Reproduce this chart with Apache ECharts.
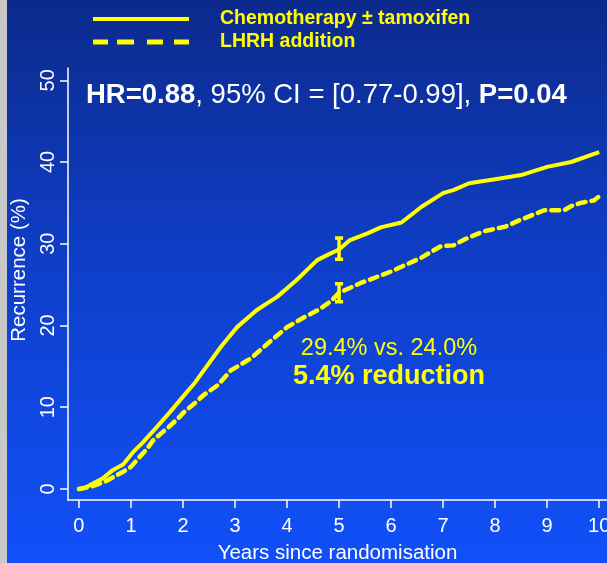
<!DOCTYPE html>
<html><head><meta charset="utf-8">
<script src="https://cdn.jsdelivr.net/npm/echarts@6/dist/echarts.min.js"></script>
<style>
html,body{margin:0;padding:0;background:#1150f7;}
#c{width:607px;height:563px;background:linear-gradient(to right,#c8c8c8 0,#c8c8c8 7px,transparent 7px),linear-gradient(to bottom,#0c2a8c 0%,#0f40cc 50%,#1150f9 100%);}
</style></head><body><div id="c"></div>
<script>
// Data
const seriesNames = ['Chemotherapy ± tamoxifen', 'LHRH addition'];
const chemoYears  = [0, 0.1, 0.25, 0.46, 0.65, 0.85, 1.04, 1.23, 1.5, 1.75, 2.0, 2.23, 2.4, 2.73, 3.04, 3.42, 3.81, 4.19, 4.58, 4.8, 5.0, 5.2, 5.56, 5.8, 6.2, 6.58, 7.0, 7.21, 7.5, 8.0, 8.5, 9.0, 9.46, 10.0];
const chemoValues = [0, 0.1, 0.6, 1.3, 2.3, 3.0, 4.5, 5.7, 7.6, 9.4, 11.3, 13.0, 14.5, 17.4, 19.8, 21.9, 23.5, 25.6, 28.0, 28.7, 29.3, 30.4, 31.3, 32.0, 32.6, 34.5, 36.2, 36.6, 37.4, 37.9, 38.4, 39.4, 40.0, 41.2];
const lhrhYears  = [0, 0.25, 0.5, 0.85, 1.0, 1.15, 1.31, 1.42, 1.58, 1.73, 1.9, 2.02, 2.19, 2.4, 2.67, 2.92, 3.31, 3.63, 4.0, 4.33, 4.6, 4.85, 5.0, 5.42, 6.0, 6.58, 6.96, 7.2, 7.4, 7.77, 8.2, 8.44, 8.79, 8.94, 9.33, 9.46, 9.65, 9.9, 10.0];
const lhrhValues = [0, 0.3, 0.9, 2.1, 2.7, 3.8, 4.9, 5.9, 6.8, 7.6, 8.6, 9.4, 10.3, 11.5, 12.7, 14.5, 16.0, 17.8, 19.8, 21.0, 21.9, 23.0, 24.0, 25.2, 26.6, 28.3, 29.7, 29.8, 30.5, 31.5, 32.1, 32.8, 33.7, 34.1, 34.1, 34.6, 35.0, 35.3, 35.8];
// 5-year confidence bars: [year, low, high]
const chemoCI = [5, 28.1, 30.7];
const lhrhCI  = [5, 22.9, 25.1];
const xTicks = [0,1,2,3,4,5,6,7,8,9,10];
const yTicks = [0,10,20,30,40,50];
const hrText = ['HR=0.88', ', 95% CI = [0.77-0.99], ', 'P=0.04'];
const noteLine1 = '29.4% vs. 24.0%';
const noteLine2 = '5.4% reduction';

const YEL = '#ffff00';
const FONT = '"Liberation Sans", Arial, sans-serif';

function pairs(xs, ys){ return xs.map((x,i)=>[x, ys[i]]); }

function errBar(params, api){
  const x = api.value(0), lo = api.value(1), hi = api.value(2);
  const a = api.coord([x, lo]), b = api.coord([x, hi]);
  const w = 4;
  const st = {stroke: YEL, lineWidth: 3.5};
  return {type:'group', children:[
    {type:'line', shape:{x1:a[0],y1:a[1],x2:b[0],y2:b[1]}, style:st},
    {type:'line', shape:{x1:a[0]-w,y1:a[1],x2:a[0]+w,y2:a[1]}, style:st},
    {type:'line', shape:{x1:b[0]-w,y1:b[1],x2:b[0]+w,y2:b[1]}, style:st}
  ]};
}

const solidIcon = 'path://M0,0H96V4H0Z';
const dashIcon = 'path://M0,0H15V5H0Z M24,0H41V5H24Z M54,0H70V5H54Z M81,0H96V5H81Z';

const chart = echarts.init(document.getElementById('c'), null, {renderer:'canvas'});
chart.setOption({
  backgroundColor: 'transparent',
  animation: false,
  textStyle: {fontFamily: FONT},
  title: [
    {
      left: 86, top: 81, padding: 0,
      text: '{b|' + hrText[0] + '}{n|' + hrText[1] + '}{b|' + hrText[2] + '}',
      textStyle: {rich: {
        b: {fontFamily: FONT, fontSize: 27.5, fontWeight: 'bold', color: '#fff'},
        n: {fontFamily: FONT, fontSize: 27.5, fontWeight: 'normal', color: '#fff'}
      }}
    },
    {
      left: 389, top: 337, textAlign: 'center', padding: 0,
      text: noteLine1,
      textStyle: {fontFamily: FONT, fontSize: 23.5, fontWeight: 'normal', color: YEL}
    },
    {
      left: 389, top: 363, textAlign: 'center', padding: 0,
      text: noteLine2,
      textStyle: {fontFamily: FONT, fontSize: 27, fontWeight: 'bold', color: YEL}
    }
  ],
  legend: {
    orient: 'vertical', left: 93, top: 9, padding: 0,
    itemWidth: 96, itemHeight: 5, itemGap: 3,
    textStyle: {color: YEL, fontFamily: FONT, fontSize: 19.5, fontWeight: 'bold', padding: [0,0,0,26]},
    data: [
      {name: seriesNames[0], icon: solidIcon, itemStyle: {color: YEL}},
      {name: seriesNames[1], icon: dashIcon, itemStyle: {color: YEL}}
    ]
  },
  grid: {left: 68, right: 0, top: 68, bottom: 63, containLabel: false, outerBoundsMode: 'none'},
  xAxis: {
    type: 'value', min: -0.21, max: 10.15,
    name: 'Years since randomisation', nameLocation: 'middle', nameGap: 43,
    nameTextStyle: {color: '#fff', fontSize: 20.5, fontFamily: FONT},
    axisLine: {show: true, onZero: false, lineStyle: {color: '#fff', width: 1.5}},
    axisTick: {show: true, length: 8, customValues: xTicks, lineStyle: {color: '#fff', width: 1.5}},
    axisLabel: {color: '#fff', fontSize: 20, margin: 16, customValues: xTicks, hideOverlap: false},
    splitLine: {show: false}
  },
  yAxis: {
    type: 'value', min: -1.35, max: 51.5,
    name: 'Recurrence (%)', nameLocation: 'middle', nameGap: 21, nameRotate: 90,
    nameTextStyle: {color: '#fff', fontSize: 20.5, fontFamily: FONT, padding: [0,0,0,28]},
    axisLine: {show: true, onZero: false, lineStyle: {color: '#fff', width: 1.5}},
    axisTick: {show: true, length: 8, customValues: yTicks, lineStyle: {color: '#fff', width: 1.5}},
    axisLabel: {color: '#fff', fontSize: 20, margin: 10, rotate: 90, customValues: yTicks},
    splitLine: {show: false}
  },
  series: [
    {
      name: seriesNames[0], type: 'line', symbol: 'none', showSymbol: false,
      data: pairs(chemoYears, chemoValues),
      lineStyle: {color: YEL, width: 4}, itemStyle: {color: YEL}, z: 3
    },
    {
      name: seriesNames[1], type: 'line', symbol: 'none', showSymbol: false,
      data: pairs(lhrhYears, lhrhValues),
      lineStyle: {color: YEL, width: 4.5, type: [8,6], cap: 'round'}, itemStyle: {color: YEL}, z: 3
    },
    {
      type: 'custom', renderItem: errBar, data: [chemoCI, lhrhCI], z: 4, silent: true
    }
  ]
});
</script></body></html>
